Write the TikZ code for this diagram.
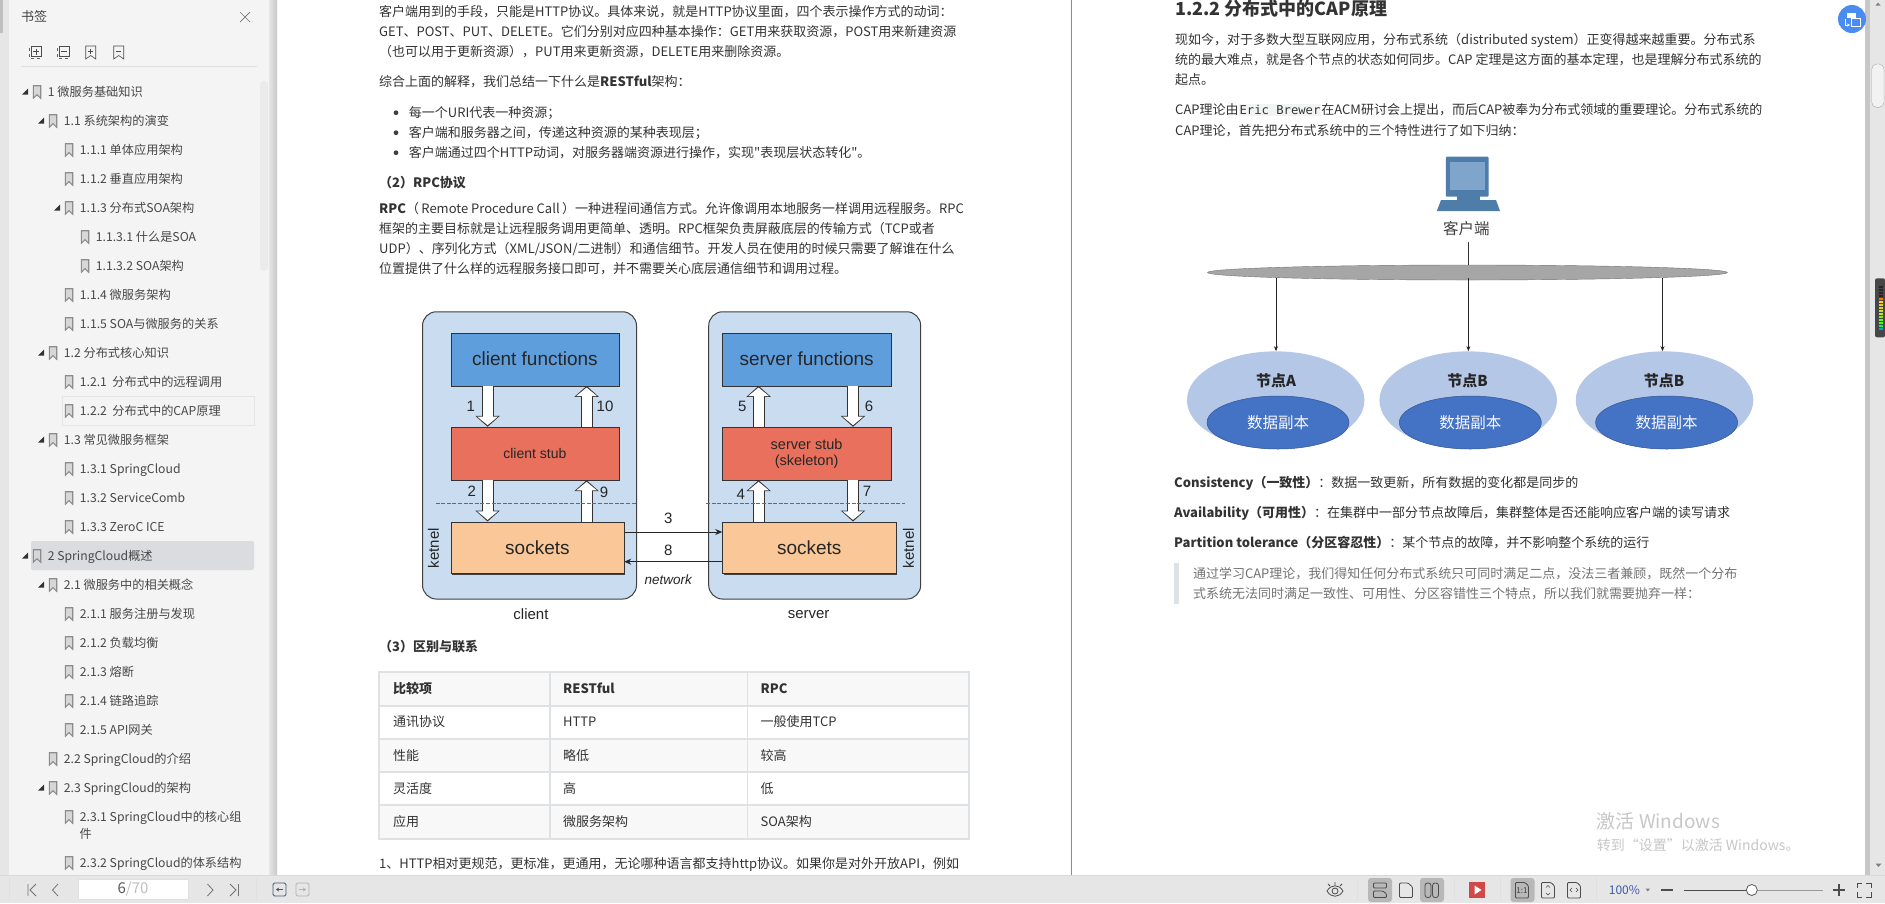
\documentclass[tikz,border=0pt]{standalone}
\usepackage{fontspec}
\setmainfont{Noto Sans CJK SC}
\newfontfamily\plainfont{Noto Sans CJK SC}
\newfontfamily\diagfont{Liberation Sans}
\newfontfamily\codefont{DejaVu Sans Mono}
\usetikzlibrary{shapes.geometric,arrows.meta,shadows}
\newcommand{\fs}[1]{\fontsize{#1}{#1}\selectfont}
\newcommand{\inlinecode}[1]{{\setlength{\fboxsep}{1pt}\colorbox{codebg}{\codefont\fs{12.2}#1}}}
\definecolor{panelbg}{HTML}{F4F4F4}
\definecolor{gutterbg}{HTML}{E6E6E6}
\definecolor{rowsel}{HTML}{DBDCE0}
\definecolor{bodytext}{HTML}{333333}
\definecolor{tocgray}{HTML}{8C8C8C}
\definecolor{tabrule}{HTML}{DFE2E5}
\definecolor{tabalt}{HTML}{F8F8F8}
\definecolor{codebg}{HTML}{F2F4F4}
\definecolor{outerblue}{HTML}{C9DCF0}
\definecolor{funcblue}{HTML}{5F9EDD}
\definecolor{stubred}{HTML}{E8705C}
\definecolor{sockpeach}{HTML}{FAC898}
\definecolor{dashblue}{HTML}{4F6F90}
\definecolor{nodelight}{HTML}{B4C7E7}
\definecolor{nodedark}{HTML}{4472C4}
\definecolor{pcsteel}{HTML}{4F7DAA}
\definecolor{pcscreen}{HTML}{7FA5CC}
\definecolor{btnblue}{HTML}{4A8CF0}
\definecolor{playred}{HTML}{D04848}
\tikzset{
	bodyline/.style={anchor=west, inner sep=0, yshift=-1pt, text=bodytext, font=\fs{13}, text height=10pt, text depth=3pt},
	toctext/.style={anchor=west, inner sep=0, yshift=-1.5pt, text=black!72, font=\fs{12.2}, text height=9.5pt, text depth=3pt},
	boxnode/.style={draw=black!80, rectangle, inner sep=0, minimum height=53, font=\diagfont\fs{19}, text=black!85,
		drop shadow={shadow xshift=1.3pt, shadow yshift=-1.3pt, opacity=1, fill=black!75}},
	hostbox/.style={draw=black!75, line width=1, fill=outerblue, rounded corners=14, minimum height=287.3},
	diaglabel/.style={inner sep=0, font=\diagfont\fs{15}, text=black!85},
	hollowback/.style={line width=12, black!80, -{Triangle[length=11, width=24]}},
	hollowfront/.style={line width=10.2, white, shorten >=1.6, -{Triangle[length=8.5, width=20]}},
	netarrow/.style={line width=1, black!85, -{Stealth[length=7, width=6]}},
	bigell/.style={ellipse, fill=nodelight, inner sep=0, minimum width=177.5, minimum height=97.7},
	smallell/.style={ellipse, fill=nodedark, draw=nodedark!75!black, line width=0.5, inner sep=0, minimum width=142, minimum height=53, text=white!90!nodelight, font=\fs{15.5}},
	uiline/.style={draw=black!70, line width=0.8},
	bmark/.pic={\fill[tocgray!35] (-3.7,-6) -- (3.7,-6) -- (3.7,6.5) -- (0,3) -- (-3.7,6.5) -- cycle;
		\draw[tocgray, line width=1.1] (-3.7,-6) -- (3.7,-6) -- (3.7,6.5) -- (0,3) -- (-3.7,6.5) -- cycle;},
	foldmark/.pic={\fill[black!80] (-3,3) -- (3,3) -- (3,-3) -- cycle;}
}
\begin{document}
\begin{tikzpicture}[x=1pt, y=-1pt]
	\useasboundingbox (0,0) rectangle (1885,903);
	\fill[white] (0,0) rectangle (1885,903);
	\fill[gutterbg] (0,0) rectangle (277,903);
	\fill[black!25] (0,0) rectangle (3,33);
	\fill[panelbg] (9,0) rectangle (269,875);
	\fill[left color=black!10, right color=black!22] (269,0) rectangle (277,875);
	\fill[black!45] (1071,0) rectangle (1072,875);
	\fill[gutterbg] (1865,0) rectangle (1885,875);
	\fill[black!22] (1865,0) rectangle (1870,875);
	\fill[gutterbg] (0,875) rectangle (1885,903);
	\draw[black!15] (0,875) -- (1885,875);

	\node[anchor=west, inner sep=0, text=black!75, font=\fs{13}] (booktitle) at (21,17) {书签};
	\draw[black!55, line width=0.7] (240,12) -- (250,22) (250,12) -- (240,22);
	\foreach \x/\s in {35/1,63/0} {
		\draw[uiline, line width=0.6] (\x-4,46.5) rectangle (\x+6,56);
		\draw[black!60, line width=0.6, dashed] (\x-6,48) -- (\x-6,58) -- (\x+5,58);
		\draw[uiline, line width=0.6] (\x-2,51.5) -- (\x+4,51.5);
		\ifnum\s=1 \draw[uiline, line width=0.6] (\x+1,48.5) -- (\x+1,54.5); \fi
	}
	\foreach \x/\s in {90.7/1,118.7/0} {
		\draw[uiline, line width=0.6] (\x-5,46) -- (\x+5,46) -- (\x+5,59) -- (\x,55.5) -- (\x-5,59) -- cycle;
		\draw[uiline, line width=0.6] (\x-2.5,51) -- (\x+2.5,51);
		\ifnum\s=1 \draw[uiline, line width=0.6] (\x,48.5) -- (\x,53.5); \fi
	}
	\draw[black!12] (21,66.3) -- (257,66.3);
	\fill[black!8, rounded corners=3] (260,81) rectangle (268,270.7);
	\filldraw[fill=panelbg, draw=black!10, line width=1] (62.7,396) rectangle (254.3,425);
	\fill[rowsel, rounded corners=2] (31,541) rectangle (254,570);

	\foreach \lv/\fold/\y/\t [count=\i] in {
		0/1/91.7/1 微服务基础知识, 1/1/120.7/1.1 系统架构的演变, 2/0/149.7/1.1.1 单体应用架构,
		2/0/178.7/1.1.2 垂直应用架构, 2/1/207.7/1.1.3 分布式SOA架构, 3/0/236.7/1.1.3.1 什么是SOA,
		3/0/265.7/1.1.3.2 SOA架构, 2/0/294.7/1.1.4 微服务架构, 2/0/323.7/1.1.5 SOA与微服务的关系,
		1/1/352.7/1.2 分布式核心知识, 2/0/381.7/1.2.1 \ 分布式中的远程调用, 2/0/410.7/1.2.2 \ 分布式中的CAP原理,
		1/1/439.7/1.3 常见微服务框架, 2/0/468.7/1.3.1 SpringCloud, 2/0/497.7/1.3.2 ServiceComb,
		2/0/526.7/1.3.3 ZeroC ICE, 0/1/555.7/2 SpringCloud概述, 1/1/584.7/2.1 微服务中的相关概念,
		2/0/613.7/2.1.1 服务注册与发现, 2/0/642.7/2.1.2 负载均衡, 2/0/671.7/2.1.3 熔断,
		2/0/700.7/2.1.4 链路追踪, 2/0/729.7/2.1.5 API网关, 1/0/758.7/2.2 SpringCloud的介绍,
		1/1/787.7/2.3 SpringCloud的架构, 2/0/816.7/2.3.1 SpringCloud中的核心组, 2/0/862.7/2.3.2 SpringCloud的体系结构} {
		\node[toctext] (toc\i) at (47.7+16*\lv,\y) {\t};
		\pic at (37+16*\lv,\y) {bmark};
		\ifnum\fold=1 \pic at (25+16*\lv,\y) {foldmark}; \fi
	}
	\node[toctext] (tocwrap) at (79.3,833.3) {件};

	\node[bodyline] (p1) at (379,11.7) {客户端用到的手段，只能是HTTP协议。具体来说，就是HTTP协议里面，四个表示操作方式的动词：};
	\node[bodyline] (p2) at (379,31.7) {GET、POST、PUT、DELETE。它们分别对应四种基本操作：GET用来获取资源，POST用来新建资源};
	\node[bodyline] (p3) at (379,51.7) {（也可以用于更新资源），PUT用来更新资源，DELETE用来删除资源。};
	\node[bodyline] (p4) at (379,81.7) {综合上面的解释，我们总结一下什么是\textbf{RESTful}架构：};
	\foreach \y/\t [count=\i] in {112.7/每一个URI代表一种资源；, 132.7/客户端和服务器之间，传递这种资源的某种表现层；, 152.7/客户端通过四个HTTP动词，对服务器端资源进行操作，实现{\plainfont"}表现层状态转化{\plainfont"}。} {
		\fill[black!75] (396,\y) circle (2.4);
		\node[bodyline] (li\i) at (408.7,\y) {\t};
	}
	\node[bodyline, font=\fs{13}\bfseries] (h2) at (379,182.7) {（2）RPC协议};
	\node[bodyline] (p5) at (379,209.3) {\textbf{RPC}（\hspace{2.4pt}Remote Procedure Call\hspace{2.4pt}）一种进程间通信方式。允许像调用本地服务一样调用远程服务。RPC};
	\node[bodyline] (p6) at (379,229.3) {框架的主要目标就是让远程服务调用更简单、透明。RPC框架负责屏蔽底层的传输方式（TCP或者};
	\node[bodyline] (p7) at (379,249.3) {UDP）、序列化方式（XML/JSON/二进制）和通信细节。开发人员在使用的时候只需要了解谁在什么};
	\node[bodyline] (p8) at (379,269.3) {位置提供了什么样的远程服务接口即可，并不需要关心底层通信细节和调用过程。};

	\node[hostbox, minimum width=214] (clienthost) at (529.5,455.4) {};
	\node[hostbox, minimum width=212] (serverhost) at (814.7,455.4) {};
	\node[boxnode, fill=funcblue, minimum width=168.3] (cfun) at (534.9,359.2) {client functions};
	\node[boxnode, fill=stubred, minimum width=168.3, font=\diagfont\fs{14}] (cstub) at (534.9,453.5) {client stub};
	\node[boxnode, fill=sockpeach, minimum width=173.3, minimum height=51.6] (csock) at (537.4,547.5) {sockets};
	\node[boxnode, fill=funcblue, minimum width=168.3] (sfun) at (806.6,359.2) {server functions};
	\node[boxnode, fill=stubred, minimum width=168.3, font=\diagfont\fs{14.5}, align=center] (sstub) at (806.6,453.5) {server stub\\[2pt](skeleton)};
	\node[boxnode, fill=sockpeach, minimum width=173.5, minimum height=51.6] (ssock) at (809.2,547.5) {sockets};
	\coordinate (cdown) at (487.6,0);
	\coordinate (cup) at (586.6,0);
	\coordinate (sup) at (758.6,0);
	\coordinate (sdown) at (853,0);
	\coordinate (net3) at (0,532);
	\coordinate (net8) at (0,561.7);
	\foreach \a/\b/\x in {cfun/cstub/cdown, cstub/csock/cdown, sfun/sstub/sdown, sstub/ssock/sdown} {
		\draw[hollowback] (\a.south -| \x) -- (\b.north -| \x);
		\draw[hollowfront] (\a.south -| \x) -- (\b.north -| \x);
	}
	\foreach \a/\b/\x in {cstub/cfun/cup, csock/cstub/cup, sstub/sfun/sup, ssock/sstub/sup} {
		\draw[hollowback] (\a.north -| \x) -- (\b.south -| \x);
		\draw[hollowfront] (\a.north -| \x) -- (\b.south -| \x);
	}
	\draw[dashblue, line width=1.3, dash pattern=on 4pt off 1.6pt] (435.5,503.3) -- (636.5,503.3);
	\draw[dashblue, line width=1.3, dash pattern=on 4pt off 1.6pt] (705.9,503.3) -- (905.2,503.3);
	\draw[netarrow] (csock.east |- net3) -- (ssock.west |- net3);
	\draw[netarrow] (ssock.west |- net8) -- (csock.east |- net8);
	\foreach \n/\x/\y/\t in {l1/470.7/406/1, l10/605/406/10, l2/471.7/491.7/2, l9/604/492.7/9, l5/742.4/406/5, l6/869/406/6, l4/740.7/494/4, l7/867/491.7/7, l3/668.3/518.3/3, l8/668.3/550.7/8, lc/531/614.3/client, ls/808.6/614.3/server}
		\node[diaglabel] (\n) at (\x,\y) {\t};
	\node[diaglabel, font=\diagfont\itshape\fs{13.5}] (lnet) at (668.3,580) {network};
	\node[diaglabel, rotate=90] (kc) at (433.4,548.3) {ketnel};
	\node[diaglabel, rotate=90] (ks) at (908.6,548.3) {ketnel};

	\node[bodyline, font=\fs{13}\bfseries] (h3) at (379,646.7) {（3）区别与联系};
	\foreach \y/\h in {672/706,739/772,805/839}
		\fill[tabalt] (378.7,\y) rectangle (968.8,\h);
	\foreach \y in {672,706,739,772,805,839}
		\draw[tabrule, line width=1.6] (378.7,\y) -- (968.8,\y);
	\foreach \x in {378.7,549.8,747.5,968.8}
		\draw[tabrule, line width=1.6] (\x,671.2) -- (\x,839.8);
	\foreach \y/\a/\b/\c [count=\i] in {689.3/\textbf{比较项}/\textbf{RESTful}/\textbf{RPC}, 722.3/通讯协议/HTTP/一般使用TCP, 755.7/性能/略低/较高, 788.7/灵活度/高/低, 821.7/应用/微服务架构/SOA架构} {
		\node[bodyline] (ta\i) at (393,\y) {\a};
		\node[bodyline] (tb\i) at (563,\y) {\b};
		\node[bodyline] (tc\i) at (760.5,\y) {\c};
	}
	\node[bodyline] (p9) at (379,864.3) {1、HTTP相对更规范，更标准，更通用，无论哪种语言都支持http协议。如果你是对外开放API，例如};

	\node[bodyline, font=\fs{18}\bfseries, text height=12pt] (caph) at (1175,9.5) {1.2.2 分布式中的CAP原理};
	\node[bodyline] (r1) at (1175,39.5) {现如今，对于多数大型互联网应用，分布式系统（distributed system）正变得越来越重要。分布式系};
	\node[bodyline] (r2) at (1175,60) {统的最大难点，就是各个节点的状态如何同步。CAP 定理是这方面的基本定理，也是理解分布式系统的};
	\node[bodyline] (r3) at (1175,80) {起点。};
	\node[bodyline] (r4) at (1175,110) {CAP理论由\inlinecode{Eric Brewer}在ACM研讨会上提出，而后CAP被奉为分布式领域的重要理论。分布式系统的};
	\node[bodyline] (r5) at (1175,131) {CAP理论，首先把分布式系统中的三个特性进行了如下归纳：};

	\fill[pcsteel, rounded corners=1] (1445.9,156.7) rectangle (1488.6,196.7);
	\fill[pcscreen] (1449.5,162) rectangle (1485,190);
	\fill[pcsteel] (1457,196) rectangle (1480,200.5);
	\fill[pcsteel] (1441,200) -- (1496,200) -- (1500,211) -- (1436.8,211) -- cycle;
	\node[inner sep=0, text=black!75, font=\fs{15.5}] (client) at (1466.4,228.3) {客户端};
	\node[ellipse, draw=black!55, fill=black!35, inner sep=0, minimum width=519.8, minimum height=15] (bus) at (1467.4,272.5) {};
	\coordinate (drop) at (1468.4,241.7);
	\draw[black!80, line width=0.6] (drop) -- (drop |- bus.north);
	\foreach \n/\xo/\xi/\xa/\xl/\t in {a/1275.7/1278/1276/1276/节点A, b/1468.2/1470.3/1468.4/1467.6/节点B, c/1664.5/1666.6/1662.5/1664/节点B} {
		\node[bigell] (node\n) at (\xo,400.2) {};
		\node[smallell] (copy\n) at (\xi,422.5) {数据副本};
		\node[inner sep=0, font=\fs{15}\bfseries, text=black!85] (name\n) at (\xl,381) {\t};
		\coordinate (tap\n) at (\xa,278);
		\draw[black!85, line width=0.6, -{Stealth[length=5, width=4]}] (tap\n) -- (tap\n |- node\n.north);
	}

	\node[bodyline] (c1) at (1174,482.7) {\textbf{Consistency（一致性）}：数据一致更新，所有数据的变化都是同步的};
	\node[bodyline] (c2) at (1174,512.7) {\textbf{Availability（可用性）}：在集群中一部分节点故障后，集群整体是否还能响应客户端的读写请求};
	\node[bodyline] (c3) at (1174,543.3) {\textbf{Partition tolerance（分区容忍性）}：某个节点的故障，并不影响整个系统的运行};
	\fill[tabrule] (1174,562.7) rectangle (1179,604);
	\node[bodyline, text=black!55] (q1) at (1192.8,574) {通过学习CAP理论，我们得知任何分布式系统只可同时满足二点，没法三者兼顾，既然一个分布};
	\node[bodyline, text=black!55] (q2) at (1192.8,594) {式系统无法同时满足一致性、可用性、分区容错性三个特点，所以我们就需要抛弃一样：};

	\fill[btnblue] (1852,19) circle (14);
	\fill[white] (1847,13) rectangle (1856,18);
	\draw[white, line width=1] (1851,18) rectangle (1860,26);
	\draw[white, line width=0.8, -{Stealth[length=3, width=3]}] (1845,19) -- (1845,25) -- (1850,25);
	\filldraw[fill=black!5, draw=black!35, rounded corners=5] (1871.7,64) rectangle (1884,107.3);
	\fill[black!50] (1875.5,5.5) -- (1878,2.5) -- (1880.5,5.5) -- cycle;
	\fill[black!50] (1875.5,863.5) -- (1878.5,867) -- (1881.5,863.5) -- cycle;
	\fill[black!72, rounded corners=2] (1875,278.3) rectangle (1885,337.3);
	\foreach \y/\c in {286/black!85,289/black!85,292/black!85,295/black!85,298/orange!90!red,301/yellow!80!orange,304/yellow!85!black,307/yellow!85!black,310/yellow!80!green,313/yellow!80!green,316/green!60!yellow,319/green!60!yellow,322/green!70!yellow,325/green!70!cyan,328/cyan!70!green}
		\fill[\c] (1879,\y) rectangle (1883,\y+1.5);

	\node[inner sep=0, anchor=west, text=black!22, font=\fs{19}] (winmark) at (1596.6,821) {激活 Windows};
	\node[inner sep=0, anchor=west, text=black!22, font=\fs{14}] (winhint) at (1596.6,845) {转到“设置”以激活 Windows。};

	\foreach \x in {9.3,256,1357,1454.5,1499.7,1596.6}
		\draw[black!12] (\x,878) -- (\x,901);
	\draw[uiline, black!55] (28,884) -- (28,896) (36,884) -- (30,890) -- (36,896);
	\draw[uiline, black!55] (58,884) -- (52.5,890) -- (58,896);
	\draw[uiline, black!55] (207.5,884) -- (213,890) -- (207.5,896);
	\draw[uiline, black!55] (230,884) -- (236,890) -- (230,896) (238.5,884) -- (238.5,896);
	\node[draw=blue!10!black!12, fill=white, inner sep=0, minimum width=109.4, minimum height=20] (pagebox) at (133,889.3) {};
	\node[inner sep=0, font=\fs{15}, text=black!25] (pagenum) at (133,889.3) {\textcolor{black!65}{6}/70};
	\draw[draw=dashblue!80!black, rounded corners=1.5, line width=0.8] (273,883) rectangle (286,896);
	\draw[draw=dashblue!80!black, line width=0.8, -{Stealth[length=3, width=4]}] (283,889.5) -- (276,889.5);
	\draw[draw=black!30, rounded corners=1.5, line width=0.8] (296,883) rectangle (309,896);
	\draw[draw=black!30, line width=0.8, -{Stealth[length=3, width=4]}] (299,889.5) -- (306,889.5);

	\draw[uiline] (1327,891) .. controls (1331,884) and (1339,884) .. (1343,891) .. controls (1339,898) and (1331,898) .. (1327,891);
	\draw[uiline] (1335,891) circle (3);
	\draw[uiline] (1335,882) -- (1335,885) (1328,884) -- (1330,886) (1342,884) -- (1340,886);
	\foreach \x in {1368,1420,1510.5}
		\fill[black!28, rounded corners=3] (\x,878) rectangle (\x+24,902);
	\draw[uiline, rounded corners=1] (1373.5,883) rectangle (1386.5,888);
	\draw[uiline, rounded corners=1] (1373.5,891) -- (1383,891) -- (1386.5,894) -- (1386.5,897.5) -- (1373.5,897.5) -- cycle;
	\draw[uiline, rounded corners=1] (1399.5,883) -- (1408,883) -- (1412.5,887) -- (1412.5,897.5) -- (1399.5,897.5) -- cycle;
	\draw[uiline, rounded corners=2.5] (1425,883) rectangle (1431,897.5);
	\draw[uiline, rounded corners=2.5] (1432.5,883) rectangle (1438.5,897.5);
	\fill[playred] (1469,882) rectangle (1485,898);
	\fill[white] (1474.5,885.5) -- (1481.5,890) -- (1474.5,894.5) -- cycle;
	\draw[uiline, rounded corners=1] (1515.5,882.5) -- (1525,882.5) -- (1528.5,886) -- (1528.5,898) -- (1515.5,898) -- cycle;
	\node[inner sep=0, font=\fs{8}, text=black!75] (oneone) at (1522,891) {1:1};
	\draw[uiline, rounded corners=1] (1541.5,882.5) -- (1551,882.5) -- (1554.5,886) -- (1554.5,898) -- (1541.5,898) -- cycle;
	\draw[uiline, line width=0.6] (1546,887.5) -- (1548,885.5) -- (1550,887.5) (1546,893) -- (1548,895) -- (1550,893);
	\draw[uiline, rounded corners=1] (1567.5,882.5) -- (1577,882.5) -- (1580.5,886) -- (1580.5,898) -- (1567.5,898) -- cycle;
	\draw[uiline, line width=0.6] (1572,888) -- (1570,890) -- (1572,892) (1576,888) -- (1578,890) -- (1576,892);
	\node[inner sep=0, font=\fs{12}, text=dashblue!80!blue] (zoompct) at (1624.4,890) {100\%};
	\fill[black!50] (1645.5,888.5) -- (1650,888.5) -- (1647.75,891.5) -- cycle;
	\draw[black!70, line width=1.2] (1661,890) -- (1673,890);
	\draw[black!40, line width=0.8] (1751.8,890) -- (1822.5,890);
	\draw[black!70, line width=0.8] (1684,890) -- (1751.8,890);
	\node[circle, draw=black!65, fill=white, line width=0.8, inner sep=0, minimum size=11] (knob) at (1751.8,890) {};
	\draw[black!70, line width=1.2] (1833,890) -- (1845,890) (1839,884) -- (1839,896);
	\draw[uiline] (1857,888) -- (1857,883) -- (1862,883) (1866,883) -- (1871,883) -- (1871,888) (1871,892) -- (1871,897) -- (1866,897) (1862,897) -- (1857,897) -- (1857,892);
\end{tikzpicture}
\end{document}
